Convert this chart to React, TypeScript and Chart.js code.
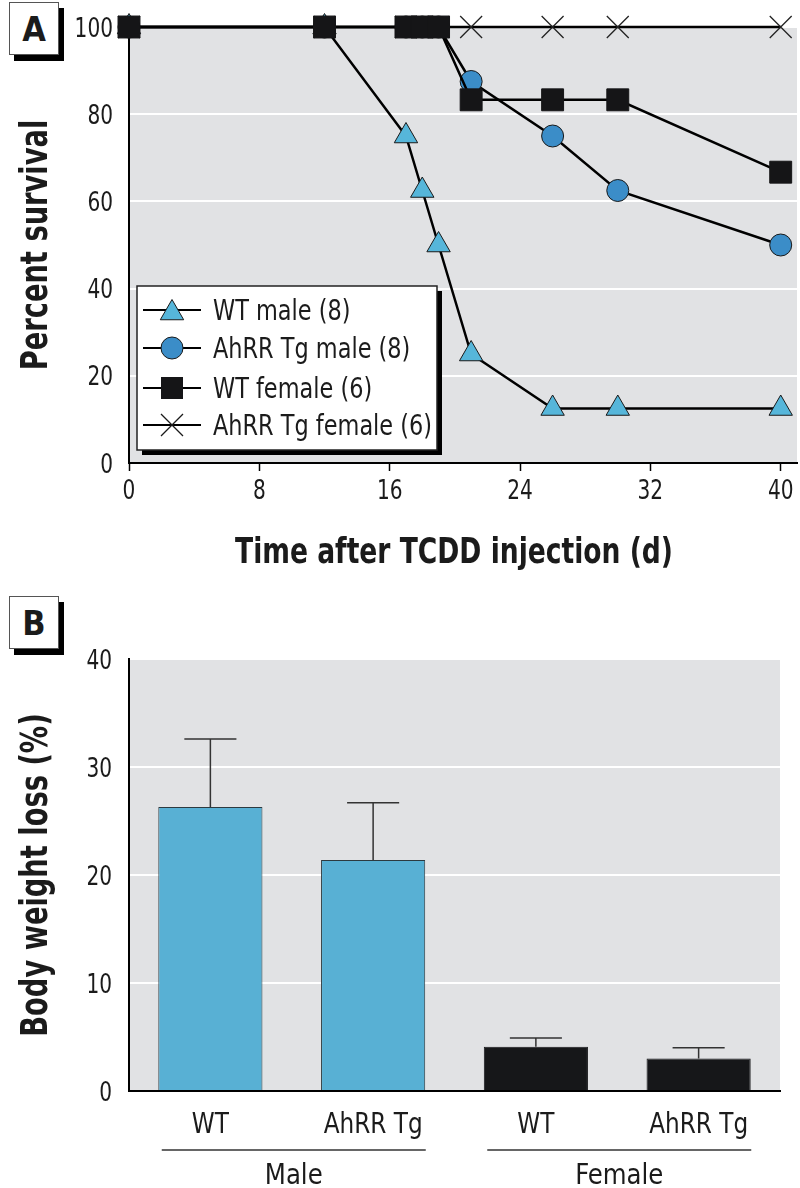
import React, { useEffect, useRef } from 'react';
import { Chart, registerables } from 'chart.js';

Chart.register(...registerables);

const FONT = "'Liberation Sans Narrow', 'Arial Narrow', 'DejaVu Sans Condensed', sans-serif";
const TEXT = '#1b1b1b';
const PLOT_BG = '#e1e2e4';

// ---------- Panel A data ----------
const survivalDays = [0, 12, 17, 18, 19, 21, 26, 30, 40];
const wtMaleSurvival = [100, 100, 75, 62.5, 50, 25, 12.5, 12.5, 12.5];
const tgMaleSurvival = [100, 100, 100, 100, 100, 87.5, 75, 62.5, 50];
const wtFemaleSurvival = [100, 100, 100, 100, 100, 83.3, 83.3, 83.3, 66.7];
const tgFemaleSurvival = [100, 100, 100, 100, 100, 100, 100, 100, 100];
const dayTicks = [0, 8, 16, 24, 32, 40];
const seriesLabels = ['WT male (8)', 'AhRR Tg male (8)', 'WT female (6)', 'AhRR Tg female (6)'];
const survivalXTitle = 'Time after TCDD injection (d)';
const survivalYTitle = 'Percent survival';

// ---------- Panel B data ----------
const barCategories = ['WT', 'AhRR Tg', 'WT', 'AhRR Tg'];
const barGroups = ['Male', 'Female'];
const weightLoss = [26.3, 21.4, 4.1, 3.0];
const weightLossErr = [6.3, 5.3, 0.8, 1.0];
const weightYTitle = 'Body weight loss (%)';

const TRI_FILL = '#56b6da';
const CIRC_FILL = '#3b8dc8';
const SQ_FILL = '#151517';
const MALE_BAR = '#58b0d4';
const FEMALE_BAR = '#161719';

const toPoints = (xs: number[], ys: number[]) => xs.map((x, i) => ({ x, y: ys[i] }));

// Draw text horizontally squeezed to imitate the condensed face of the original.
function narrowText(
  ctx: CanvasRenderingContext2D,
  text: string,
  x: number,
  y: number,
  size: number,
  opts: { bold?: boolean; align?: CanvasTextAlign; squeeze?: number; rotate?: boolean; baseline?: CanvasTextBaseline } = {}
) {
  ctx.save();
  ctx.translate(x, y);
  if (opts.rotate) ctx.rotate(-Math.PI / 2);
  ctx.scale(opts.squeeze ?? 0.88, 1);
  ctx.font = `${opts.bold ? 'bold ' : ''}${size}px ${FONT}`;
  ctx.textAlign = opts.align ?? 'center';
  ctx.textBaseline = opts.baseline ?? 'alphabetic';
  ctx.fillStyle = TEXT;
  ctx.fillText(text, 0, 0);
  ctx.restore();
}

const bgPlugin = {
  id: 'plotBg',
  beforeDraw(chart: any) {
    const { ctx, chartArea } = chart;
    ctx.save();
    ctx.fillStyle = PLOT_BG;
    ctx.fillRect(chartArea.left, chartArea.top, chartArea.right - chartArea.left, chartArea.bottom - chartArea.top);
    ctx.restore();
  },
};

function drawMarker(ctx: CanvasRenderingContext2D, kind: string, cx: number, cy: number) {
  ctx.save();
  ctx.lineWidth = 1;
  ctx.strokeStyle = '#1a1a1a';
  if (kind === 'triangle') {
    const r = 13.5;
    ctx.beginPath();
    ctx.moveTo(cx, cy - r);
    ctx.lineTo(cx + r * Math.sin((2 * Math.PI) / 3), cy + r * 0.5);
    ctx.lineTo(cx - r * Math.sin((2 * Math.PI) / 3), cy + r * 0.5);
    ctx.closePath();
    ctx.fillStyle = TRI_FILL;
    ctx.fill();
    ctx.stroke();
  } else if (kind === 'circle') {
    ctx.beginPath();
    ctx.arc(cx, cy, 11, 0, Math.PI * 2);
    ctx.fillStyle = CIRC_FILL;
    ctx.fill();
    ctx.stroke();
  } else if (kind === 'rect') {
    ctx.fillStyle = SQ_FILL;
    ctx.fillRect(cx - 11, cy - 11, 22, 22);
  } else {
    ctx.lineWidth = 1.3;
    ctx.beginPath();
    ctx.moveTo(cx - 11, cy - 11);
    ctx.lineTo(cx + 11, cy + 11);
    ctx.moveTo(cx + 11, cy - 11);
    ctx.lineTo(cx - 11, cy + 11);
    ctx.stroke();
  }
  ctx.restore();
}

const survivalTextPlugin = {
  id: 'survivalText',
  afterDraw(chart: any) {
    const { ctx, chartArea } = chart;
    const xs = chart.scales.x;
    const ys = chart.scales.y;
    xs.ticks.forEach((t: any) => {
      narrowText(ctx, String(t.value), xs.getPixelForValue(t.value), 499, 26, { squeeze: 0.86 });
    });
    ys.ticks.forEach((t: any) => {
      narrowText(ctx, String(t.value), 113, ys.getPixelForValue(t.value) + 9.5, 26, { squeeze: 0.86, align: 'right' });
    });
    narrowText(ctx, survivalXTitle, 454, 563, 36, { bold: true, squeeze: 0.82 });
    narrowText(ctx, survivalYTitle, 47, (chartArea.top + chartArea.bottom) / 2, 37, { bold: true, squeeze: 0.82, rotate: true });

    // legend box
    const bx = 137, by = 286, bw = 300, bh = 164;
    ctx.save();
    ctx.fillStyle = '#000';
    ctx.fillRect(bx + 5, by + 5, bw, bh);
    ctx.fillStyle = '#fff';
    ctx.fillRect(bx, by, bw, bh);
    ctx.strokeStyle = '#222';
    ctx.lineWidth = 1.5;
    ctx.strokeRect(bx, by, bw, bh);
    const kinds = ['triangle', 'circle', 'rect', 'crossRot'];
    const rows = [310, 348, 388, 425];
    kinds.forEach((k, i) => {
      const y = rows[i];
      ctx.strokeStyle = '#000';
      ctx.lineWidth = 2;
      ctx.beginPath();
      ctx.moveTo(143, y);
      ctx.lineTo(201, y);
      ctx.stroke();
      drawMarker(ctx, k, 172, y + (k === 'triangle' ? 3 : 0));
      narrowText(ctx, seriesLabels[i], 213, y + 10, 28, { squeeze: 0.89, align: 'left' });
    });
    ctx.restore();
  },
};

const errorBarPlugin = {
  id: 'errorBars',
  afterDatasetsDraw(chart: any) {
    const { ctx } = chart;
    const meta = chart.getDatasetMeta(0);
    const yScale = chart.scales.y;
    ctx.save();
    ctx.strokeStyle = '#333';
    ctx.lineWidth = 1.5;
    meta.data.forEach((bar: any, i: number) => {
      const { x, y, width } = bar.getProps(['x', 'y', 'width'], true);
      const yTop = yScale.getPixelForValue(weightLoss[i] + weightLossErr[i]);
      ctx.beginPath();
      ctx.moveTo(x, y);
      ctx.lineTo(x, yTop);
      ctx.moveTo(x - width / 4, yTop);
      ctx.lineTo(x + width / 4, yTop);
      ctx.stroke();
    });
    ctx.restore();
  },
};

const weightTextPlugin = {
  id: 'weightText',
  afterDraw(chart: any) {
    const { ctx, chartArea } = chart;
    const xs = chart.scales.x;
    const ys = chart.scales.y;
    ys.ticks.forEach((t: any) => {
      narrowText(ctx, String(t.value), 112, ys.getPixelForValue(t.value) + 9.5, 26, { squeeze: 0.86, align: 'right' });
    });
    barCategories.forEach((c, i) => {
      narrowText(ctx, c, xs.getPixelForValue(i), 538, 28, { squeeze: 0.92 });
    });
    narrowText(ctx, weightYTitle, 47, (chartArea.top + chartArea.bottom) / 2, 37, { bold: true, squeeze: 0.82, rotate: true });
    ctx.save();
    barGroups.forEach((g, gi) => {
      const c = (xs.getPixelForValue(gi * 2) + xs.getPixelForValue(gi * 2 + 1)) / 2;
      ctx.strokeStyle = '#333';
      ctx.lineWidth = 1.5;
      ctx.beginPath();
      ctx.moveTo(c - 130, 555);
      ctx.lineTo(c + 134, 555);
      ctx.stroke();
      narrowText(ctx, g, c + 2, 589, 28, { squeeze: 0.97 });
    });
    ctx.restore();
  },
};

function SurvivalChart() {
  const ref = useRef<HTMLCanvasElement>(null);
  useEffect(() => {
    const mk = (label: string, ys: number[], style: string, radius: number, fill: string, border: string, bw: number) => ({
      label,
      data: toPoints(survivalDays, ys),
      borderColor: '#000',
      borderWidth: 2.5,
      pointStyle: style,
      pointRadius: radius,
      pointBackgroundColor: fill,
      pointBorderColor: border,
      pointBorderWidth: bw,
      clip: false,
      tension: 0,
    });
    const chart = new Chart(ref.current!, {
      type: 'line',
      data: {
        datasets: [
          mk(seriesLabels[2], wtFemaleSurvival, 'rect', 15.5, SQ_FILL, SQ_FILL, 1),
          mk(seriesLabels[0], wtMaleSurvival, 'triangle', 13.5, TRI_FILL, '#1a1a1a', 1),
          mk(seriesLabels[1], tgMaleSurvival, 'circle', 11, CIRC_FILL, '#1a1a1a', 1),
          mk(seriesLabels[3], tgFemaleSurvival, 'crossRot', 15.5, '#000', '#222', 1.3),
        ] as any,
      },
      options: {
        responsive: false,
        animation: false,
        devicePixelRatio: 1,
        layout: { autoPadding: false, padding: { top: 27, right: 3, left: 0, bottom: 0 } },
        plugins: { legend: { display: false }, tooltip: { enabled: false } },
        scales: {
          x: {
            type: 'linear',
            min: 0,
            max: 41,
            afterBuildTicks: (s: any) => { s.ticks = dayTicks.map((v) => ({ value: v })); },
            afterFit: (s: any) => { s.height = 132; s.paddingLeft = 0; s.paddingRight = 0; },
            grid: { display: true, drawOnChartArea: false, drawTicks: true, tickLength: 8, tickColor: '#000', tickWidth: 1.5 },
            border: { display: true, color: '#000', width: 2 },
            ticks: { display: false },
          },
          y: {
            min: 0,
            max: 100,
            afterFit: (s: any) => { s.width = 129; s.paddingTop = 0; s.paddingBottom = 0; },
            ticks: { stepSize: 20, display: false },
            grid: { color: '#fff', lineWidth: 2, drawTicks: false },
            border: { display: true, color: '#000', width: 2 },
          },
        },
      } as any,
      plugins: [bgPlugin, survivalTextPlugin],
    });
    return () => chart.destroy();
  }, []);
  return <canvas ref={ref} width={800} height={595} style={{ display: 'block', width: 800, height: 595 }} />;
}

function WeightChart() {
  const ref = useRef<HTMLCanvasElement>(null);
  useEffect(() => {
    const chart = new Chart(ref.current!, {
      type: 'bar',
      data: {
        labels: barCategories,
        datasets: [
          {
            label: 'Body weight loss',
            data: weightLoss,
            backgroundColor: [MALE_BAR, MALE_BAR, FEMALE_BAR, FEMALE_BAR],
            borderColor: ['#2c3a40', '#2c3a40', FEMALE_BAR, FEMALE_BAR],
            borderWidth: 1,
            barPercentage: 0.64,
            categoryPercentage: 1,
          },
        ],
      },
      options: {
        responsive: false,
        animation: false,
        devicePixelRatio: 1,
        layout: { autoPadding: false, padding: { top: 64, right: 20, left: 0, bottom: 0 } },
        plugins: { legend: { display: false }, tooltip: { enabled: false } },
        scales: {
          x: {
            afterFit: (s: any) => { s.height = 97; s.paddingLeft = 0; s.paddingRight = 0; },
            grid: { display: false, drawTicks: false },
            border: { display: true, color: '#000', width: 2 },
            ticks: { display: false },
          },
          y: {
            min: 0,
            max: 40,
            afterFit: (s: any) => { s.width = 129; s.paddingTop = 0; s.paddingBottom = 0; },
            ticks: { stepSize: 10, display: false },
            grid: { color: '#fff', lineWidth: 2, drawTicks: false },
            border: { display: true, color: '#000', width: 2 },
          },
        },
      } as any,
      plugins: [bgPlugin, errorBarPlugin, weightTextPlugin],
    });
    return () => chart.destroy();
  }, []);
  return <canvas ref={ref} width={800} height={593} style={{ display: 'block', width: 800, height: 593 }} />;
}

function PanelTag({ letter, top }: { letter: string; top: number }) {
  return (
    <div style={{ position: 'absolute', left: 9, top, width: 55, height: 59 }}>
      <div style={{ position: 'absolute', left: 5, top: 6, width: 50, height: 53, background: '#000' }} />
      <div
        style={{
          position: 'absolute', left: 0, top: 0, width: 48, height: 51, background: '#fff', border: '1px solid #555',
          display: 'flex', alignItems: 'center', justifyContent: 'center',
          fontFamily: FONT, fontWeight: 'bold', fontSize: 34, color: TEXT,
        }}
      >
        {letter}
      </div>
    </div>
  );
}

export default function App() {
  return (
    <div style={{ position: 'absolute', left: 0, top: 0, width: 800, height: 1188, background: '#fff', overflow: 'hidden' }}>
      <div style={{ position: 'absolute', left: 0, top: 0 }}>
        <SurvivalChart />
      </div>
      <div style={{ position: 'absolute', left: 0, top: 595 }}>
        <WeightChart />
      </div>
      <PanelTag letter="A" top={2} />
      <PanelTag letter="B" top={596} />
    </div>
  );
}
